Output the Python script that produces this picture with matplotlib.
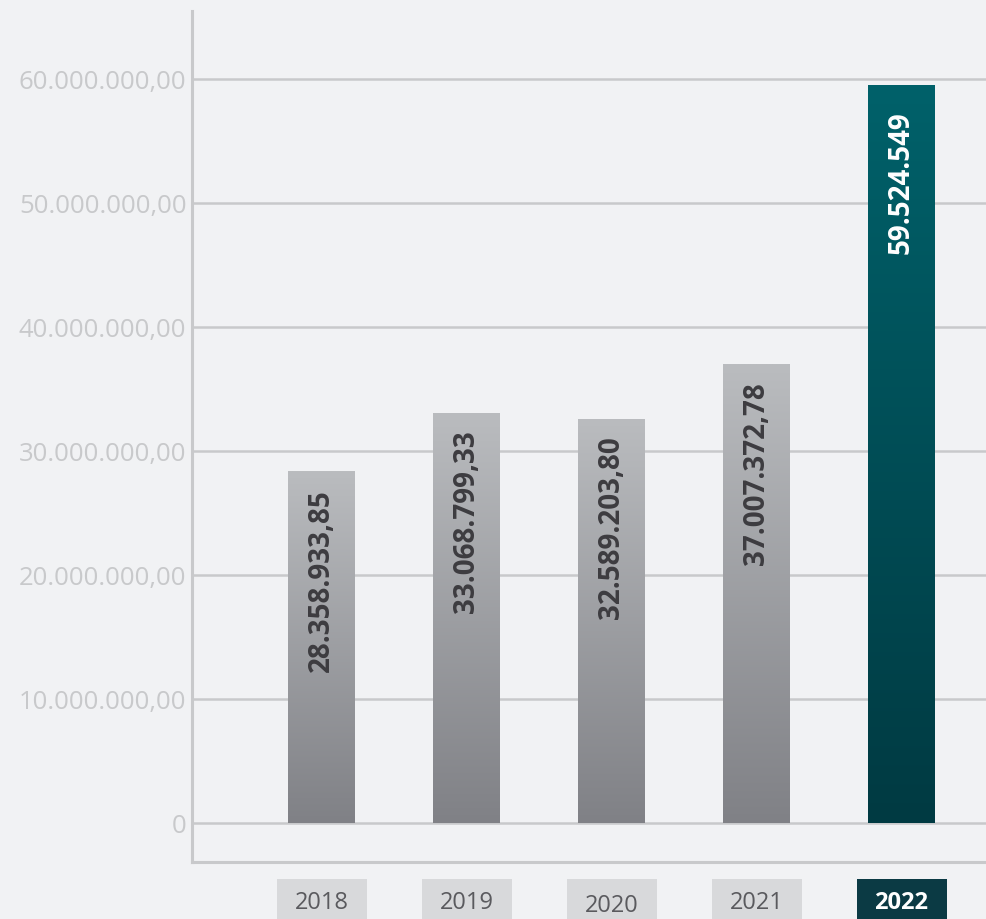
import matplotlib.pyplot as plt
import numpy as np
from matplotlib.colors import LinearSegmentedColormap
from matplotlib.patches import Rectangle

# yearly totals
years = ['2018', '2019', '2020', '2021', '2022']
values = [28358933.85, 33068799.33, 32589203.80, 37007372.78, 59524549]
value_labels = ['28.358.933,85', '33.068.799,33', '32.589.203,80', '37.007.372,78', '59.524.549']
tick_values = [0, 10e6, 20e6, 30e6, 40e6, 50e6, 60e6]
tick_labels = ['0', '10.000.000,00', '20.000.000,00', '30.000.000,00',
               '40.000.000,00', '50.000.000,00', '60.000.000,00']

bg = '#f1f2f4'
line_col = '#c8c9cb'
gray_grad = LinearSegmentedColormap.from_list('g', ['#808186', '#babcbf'])
teal_grad = LinearSegmentedColormap.from_list('t', ['#003a42', '#00616a'])

fig = plt.figure(figsize=(9.86, 9.20), dpi=100, facecolor=bg)
ax = fig.add_axes([192 / 986, 57 / 920, 794 / 986, 851 / 920])
ax.set_facecolor(bg)

xlo = -129.5 / 145
xhi = xlo + 794 / 145
ylo = -39 / 124 * 1e7
yhi = 812 / 124 * 1e7

x = np.arange(len(years))
width = 67 / 145
bars = ax.bar(x, values, width=width, color='none', zorder=3)

# vertical gradient fill for each bar
grad = np.linspace(0, 1, 256).reshape(-1, 1)
for i, b in enumerate(bars):
    cmap = teal_grad if i == len(years) - 1 else gray_grad
    im = ax.imshow(grad, cmap=cmap, origin='lower', aspect='auto',
                   extent=(b.get_x(), b.get_x() + b.get_width(), 0, b.get_height()),
                   zorder=3)
    im.set_clip_path(b)

for i, (v, lab) in enumerate(zip(values, value_labels)):
    last = i == len(years) - 1
    ax.annotate(lab, (x[i], v), xytext=(0, -18 if last else -12), textcoords='offset points',
                rotation=90, ha='center', va='top', fontsize=20, fontweight='bold',
                color='white' if last else '#3d3c40', family=['Open Sans', 'DejaVu Sans'],
                zorder=4)

ax.set_xlim(xlo, xhi)
ax.set_ylim(ylo, yhi)
ax.set_yticks(tick_values)
ax.set_yticklabels(tick_labels, color=line_col, fontsize=18.5, family=['Open Sans', 'DejaVu Sans'])
ax.tick_params(axis='y', length=0, pad=4)
ax.set_xticks([])
ax.yaxis.grid(True, color=line_col, linewidth=1.8, zorder=1)
ax.set_axisbelow(True)

for s in ['top', 'right']:
    ax.spines[s].set_visible(False)
for s in ['left', 'bottom']:
    ax.spines[s].set_color(line_col)
    ax.spines[s].set_linewidth(2.2)

# year boxes under the axis
tr = ax.get_xaxis_transform()
for i, yr in enumerate(years):
    last = i == len(years) - 1
    box = Rectangle((x[i] - 45 / 145, -57 / 851), 90 / 145, 40 / 851, transform=tr,
                    facecolor='#0b3a44' if last else '#d8d9db', edgecolor='none',
                    clip_on=False)
    ax.add_patch(box)
    ty = -43 / 851 if yr == '2020' else -40 / 851
    ax.text(x[i], ty, yr, transform=tr, ha='center', va='center', fontsize=17,
            fontweight='bold' if last else 'normal',
            color='white' if last else '#5a5a5e',
            family=['Liberation Sans Narrow', 'Open Sans', 'DejaVu Sans'], clip_on=False)

fig.savefig('out.png', dpi=100, facecolor=bg)
